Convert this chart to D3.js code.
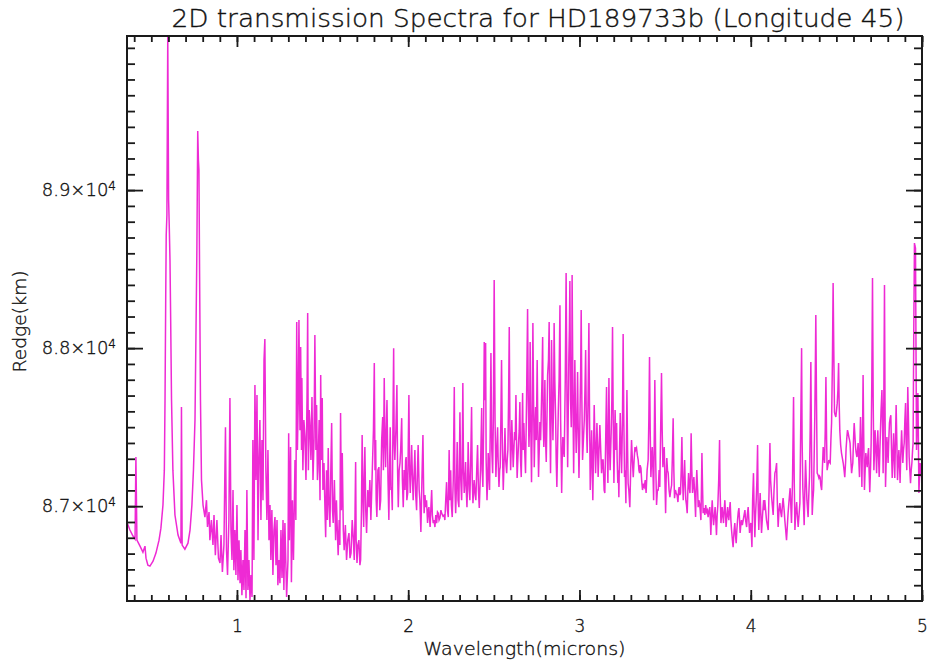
<!DOCTYPE html>
<html>
<head>
<meta charset="utf-8">
<script src="https://cdn.jsdelivr.net/npm/d3@7"></script>
<style>
  body { margin: 0; background: #fff; }
  text { font-family: "DejaVu Sans", sans-serif; fill: #111; }
</style>
</head>
<body>
<svg id="chart" width="929" height="666"></svg>
<script>
// Transmission spectrum: [wavelength (microns), Redge (km)]
const opticalNir = [
  [0.358,86899],[0.375,86849],[0.393,86811],[0.405,86792],[0.410,87311],[0.416,86785],[0.434,86747],[0.451,86709],
  [0.463,86747],[0.469,86671],[0.480,86627],[0.492,86621],[0.510,86652],[0.527,86703],[0.545,86785],[0.556,86861],
  [0.568,87007],[0.576,87228],[0.580,87671],[0.584,88304],[0.587,88716],[0.591,88842],[0.596,89975],[0.601,88937],
  [0.605,88760],[0.609,88557],[0.613,88178],[0.618,87671],[0.626,87228],[0.638,86944],[0.656,86817],[0.673,86766],
  [0.676,87627],[0.680,86754],[0.696,86728],[0.714,86766],[0.726,86849],[0.737,87007],[0.746,87228],[0.755,87545],
  [0.761,88114],[0.766,88621],[0.771,89374],[0.775,89190],[0.778,89127],[0.782,88450],[0.787,87671],[0.793,87165],
  [0.802,87007],[0.813,86931],[0.822,87038],[0.828,86868],[0.837,86963],[0.842,86785],[0.851,86912],[0.860,86754],
  [0.866,86944],[0.874,86690],[0.883,86912],[0.892,86671],[0.901,86640],[0.907,86817],[0.915,86583],[0.924,86754],
  [0.933,87500],[0.939,86722],[0.945,86564],[0.953,86912],[0.959,87684],[0.965,86849],[0.971,86659],[0.977,87102],
  [0.982,86595],[0.988,86849],[0.994,86564],[1.000,87007],[1.006,86532],[1.012,86785],[1.018,86513],[1.023,86722],
  [1.029,86437],[1.035,86659],[1.041,86469],[1.047,86849],[1.053,86418],[1.058,87102],[1.064,86469],[1.070,86659],
  [1.076,86406],[1.082,86564],[1.088,86425],[1.093,87418],[1.099,86659],[1.105,87766],[1.111,87165],[1.117,87703],
  [1.123,86785],[1.128,87292],[1.134,87545],[1.140,86912],[1.146,87418],[1.152,87038],[1.158,87925],[1.163,88057],
  [1.169,87228],[1.175,86912],[1.181,87355],[1.187,86785],[1.193,87007],[1.198,86659],[1.204,86975],[1.210,86564],
  [1.216,86849],[1.222,86931],[1.228,86627],[1.234,86912],[1.239,86500],[1.245,86659],[1.251,86513],[1.257,86849],
  [1.263,86545],[1.269,86912],[1.274,86469],[1.280,86893]
];

const waterBands = [
  [1.290,86425],[1.298,86659],[1.302,87462],[1.306,86785],[1.313,87374],[1.318,86519],[1.324,87038],[1.330,86659],
  [1.339,87292],[1.344,86912],[1.349,88165],[1.353,87355],[1.358,87671],[1.362,88178],[1.368,87481],[1.372,88007],
  [1.377,87355],[1.379,87811],[1.385,87228],[1.391,87545],[1.397,87437],[1.403,87165],[1.409,87671],[1.413,88222],
  [1.417,87228],[1.422,87608],[1.426,87526],[1.432,87292],[1.438,87690],[1.444,87165],[1.450,87418],[1.455,88083],
  [1.461,87355],[1.465,87640],[1.470,87165],[1.473,87228],[1.480,87545],[1.485,87038],[1.489,87830],[1.493,87292],
  [1.498,87684],[1.502,87102],[1.508,87273],[1.514,86975],[1.518,86804],[1.523,87228],[1.528,86912],[1.533,87368],
  [1.537,87038],[1.543,86868],[1.548,87228],[1.553,87526],[1.558,86975],[1.562,86893],[1.569,87165],[1.576,86785],
  [1.581,87038],[1.586,86849],[1.591,86690],[1.597,86912],[1.601,86754],[1.605,87589],[1.610,86975],[1.615,87336],
  [1.621,86849],[1.626,86722],[1.633,86880],[1.640,86659],[1.647,86785],[1.654,86830],[1.660,86671],[1.666,86703],
  [1.673,86912],[1.679,86804],[1.685,86659],[1.689,86912],[1.693,87279],[1.696,86785],[1.701,86640],[1.706,86754],
  [1.712,86785],[1.718,86627],[1.722,86659],[1.727,86975],[1.731,87450],[1.736,87038],[1.740,86868],[1.743,87165],
  [1.747,87374],[1.752,86975],[1.757,86830],[1.764,87102],[1.771,86994],[1.776,87165],[1.782,86912],[1.787,87102],
  [1.792,87292],[1.797,87481],[1.802,87906],[1.806,87228],[1.810,87418],[1.813,87038],[1.817,86931],[1.823,87228],
  [1.829,87247],[1.834,86975],[1.839,87038],[1.845,87418],[1.851,87564],[1.855,87228],[1.860,87811],[1.864,87418],
  [1.868,87247],[1.872,87481],[1.876,87671],[1.882,87165],[1.887,86912],[1.891,87228],[1.895,87500],[1.899,87102],
  [1.903,87121],[1.907,86975],[1.911,87545],[1.915,88000],[1.918,87418],[1.922,87292],[1.928,87481],[1.934,87766],
  [1.938,87228],[1.942,86994],[1.947,87228],[1.952,87273],[1.956,87355],[1.962,87557],[1.966,87165],[1.971,86994],
  [1.976,87228],[1.981,87102],[1.985,87292],[1.988,87311],[1.992,87038],[1.997,87083],[2.000,87355],[2.004,87703],
  [2.008,87228],[2.012,87083],[2.016,87228],[2.020,87387],[2.025,87165],[2.029,87038],[2.035,87228],[2.039,87355],
  [2.044,87070],[2.049,86975],[2.054,87228],[2.058,87387],[2.064,87102],[2.068,87038],[2.074,86836],[2.080,87165],
  [2.086,87450],[2.090,87102],[2.093,86956],[2.098,87070],[2.102,86994],[2.107,87038],[2.113,86893],[2.117,86975],
  [2.121,86994],[2.125,86912],[2.128,86868],[2.133,87007],[2.137,87102],[2.141,86944],[2.146,86893],[2.151,86912],
  [2.156,86868],[2.161,86944],[2.166,86893],[2.171,86963],[2.175,86956],[2.180,86912],[2.185,86925],[2.191,86975],
  [2.195,86956],[2.203,86937],[2.210,86944]
];

const kBand = [
  [2.214,86912],[2.219,87038],[2.224,87152],[2.229,86975],[2.234,86931],[2.239,87355],[2.243,87038],[2.248,87228],
  [2.252,87007],[2.257,86931],[2.263,87165],[2.269,87754],[2.273,87102],[2.277,86956],[2.281,87102],[2.286,87406],
  [2.291,87038],[2.296,86994],[2.302,87595],[2.307,87165],[2.312,87038],[2.315,87228],[2.319,87779],[2.323,87228],
  [2.327,87083],[2.331,87165],[2.335,87279],[2.339,87102],[2.343,86994],[2.347,87165],[2.350,87406],[2.356,87102],
  [2.360,87038],[2.365,87292],[2.370,87627],[2.374,87165],[2.378,87019],[2.382,87102],[2.385,87165],[2.391,87070],
  [2.395,87038],[2.400,87228],[2.405,87387],[2.410,87102],[2.415,86988],[2.422,87228],[2.429,87621],[2.432,87228],
  [2.436,87121],[2.440,87481],[2.444,88038],[2.448,87671],[2.452,88032],[2.455,87292],[2.460,87038],[2.464,87165],
  [2.467,87336],[2.471,87228],[2.475,87102],[2.479,87481],[2.483,87969],[2.488,87355],[2.493,87209],[2.497,87545],
  [2.502,88431],[2.507,87545],[2.512,87184],[2.517,87355],[2.522,87500],[2.525,87292],[2.530,87121],[2.534,87228],
  [2.537,87247],[2.541,87545],[2.545,87925],[2.550,87355],[2.555,87102],[2.560,87292],[2.565,87494],[2.569,87292],
  [2.575,87209],[2.578,87292],[2.582,87355],[2.586,87671],[2.590,88133],[2.594,87481],[2.598,87228],[2.601,87355],
  [2.605,87545],[2.610,87355],[2.613,87247],[2.617,87355],[2.621,87469],[2.625,87418],[2.629,87703],[2.633,87355],
  [2.636,87178],[2.640,87292],[2.645,87418],[2.648,87481],[2.652,87659],[2.656,87292],[2.660,87184],[2.664,87418],
  [2.668,87716],[2.671,87355],[2.675,87526],[2.680,87355],[2.685,87209],[2.691,87671],[2.697,88247],[2.701,87671],
  [2.705,87374],[2.709,87545],[2.712,88038],[2.716,87481],[2.720,87152],[2.724,87545],[2.728,88159],[2.732,87671],
  [2.736,87247],[2.740,87481],[2.744,87627],[2.748,87418],[2.753,87925],[2.757,87481],[2.761,87184],[2.765,87355],
  [2.769,87532],[2.773,87418],[2.776,87545],[2.781,87798],[2.785,88070],[2.788,87545],[2.792,87374],[2.795,87545],
  [2.798,87798],[2.802,87418],[2.806,87279],[2.810,87545],[2.814,87830],[2.819,87925],[2.823,88165],[2.827,87545],
  [2.831,87209],[2.834,87545],[2.837,88051],[2.841,87671],[2.845,87418],[2.849,87671],[2.852,88159],[2.856,87798],
  [2.861,87545],[2.864,87292],[2.868,87121],[2.872,87355],[2.876,87589],[2.881,87798],[2.886,88272],[2.890,87545],
  [2.896,87083],[2.899,87292],[2.903,87437],[2.907,87355],[2.911,87311],[2.917,87798],[2.922,88475],[2.927,87671],
  [2.931,87247],[2.934,87545],[2.938,87944],[2.941,88114],[2.944,88424],[2.948,87671],[2.952,87500],[2.955,87798],
  [2.957,88462],[2.962,87671],[2.966,87209],[2.969,87545],[2.973,87925],[2.977,87545],[2.981,87336],[2.985,87545],
  [2.989,87849],[2.992,87545],[2.997,87178],[3.001,87418],[3.004,87659],[3.007,87861],[3.010,88241],[3.014,87671],
  [3.018,87292],[3.023,87418],[3.028,87545],[3.032,87735],[3.036,87988],[3.040,87545],[3.045,87336],[3.050,87671],
  [3.055,88159],[3.059,87545],[3.063,87102],[3.067,87292],[3.071,87481],[3.074,87292],[3.078,87038],[3.082,87355],
  [3.086,87640],[3.090,87418],[3.094,87209],[3.098,87355],[3.102,87526],[3.106,87355],[3.109,87184],[3.114,87355],
  [3.119,87513],[3.124,87355],[3.129,87209],[3.134,87292],[3.138,87292],[3.144,87102]
];

const lBand = [
  [3.148,87083],[3.153,87418],[3.158,87754],[3.162,87355],[3.166,87146],[3.169,87481],[3.172,87811],[3.176,87355],
  [3.179,87228],[3.185,87462],[3.189,87671],[3.193,88133],[3.197,87545],[3.201,87146],[3.205,87418],[3.208,87608],
  [3.213,87355],[3.217,87526],[3.220,87292],[3.224,87146],[3.227,87228],[3.230,87057],[3.234,87355],[3.238,87589],
  [3.242,87355],[3.246,87209],[3.251,87545],[3.255,88089],[3.259,87545],[3.263,87184],[3.267,87228],[3.271,87019],
  [3.274,87355],[3.277,87735],[3.281,87355],[3.284,87146],[3.288,87102],[3.294,86994],[3.299,87228],[3.304,87418],
  [3.309,87292],[3.314,87184],[3.319,87292],[3.324,87374],[3.328,87355],[3.333,87368],[3.338,87323],[3.343,87292],
  [3.347,87228],[3.351,87209],[3.354,87260],[3.359,87241],[3.363,87165],[3.368,87102],[3.373,87133],[3.378,87121],
  [3.384,87165],[3.389,87083],[3.395,87228],[3.401,87292],[3.405,87545],[3.409,87944],[3.413,87481],[3.417,87184],
  [3.421,87292],[3.425,87374],[3.429,87228],[3.433,87038],[3.436,87355],[3.440,87798],[3.445,87292],[3.450,87007],
  [3.455,87102],[3.460,87102],[3.465,87228],[3.469,87121],[3.474,87481],[3.479,87842],[3.483,87481],[3.487,87247],
  [3.491,87323],[3.495,87374],[3.499,87165],[3.503,86956],[3.506,87165],[3.510,87304],[3.514,87228],[3.518,87209],
  [3.523,87102],[3.528,87057],[3.533,87102],[3.538,87133],[3.542,87292],[3.547,87557],[3.551,87228],[3.555,87051],
  [3.560,87102],[3.565,87083],[3.570,87070],[3.575,87026],[3.579,87102],[3.582,87121],[3.586,87070],[3.590,87083],
  [3.594,87228],[3.598,87437],[3.602,87165],[3.606,87038],[3.610,87165],[3.614,87292],[3.617,87165],[3.621,87038],
  [3.625,87007],[3.629,86956],[3.633,87102],[3.637,87209],[3.640,87133],[3.645,87083],[3.649,87228],[3.652,87462],
  [3.656,87228],[3.660,87083],[3.664,87133],[3.668,87184],[3.673,87070],[3.678,86931],[3.681,87102],[3.685,87228],
  [3.690,87102],[3.693,86994],[3.697,87038],[3.701,87019],[3.705,86975],[3.709,86912],[3.712,87102],[3.715,87336],
  [3.719,87102],[3.722,86956],[3.728,86988],[3.732,86944],[3.737,87007],[3.742,86963],[3.747,86975],[3.751,86931],
  [3.757,86975],[3.761,86994],[3.764,86912],[3.767,86817],[3.771,86944],[3.775,87038],[3.779,86944],[3.783,86880],
  [3.788,86944],[3.792,86994],[3.796,86912],[3.800,86817],[3.804,86944],[3.808,87007],[3.813,87165],[3.818,87418],
  [3.821,87102],[3.826,86893],[3.830,86944],[3.833,86994],[3.837,86944],[3.841,86893],[3.845,86975],[3.849,87038],
  [3.853,86944],[3.856,86868],[3.861,86944],[3.865,86994],[3.868,86944],[3.872,86912],[3.876,86975],[3.880,87026],
  [3.884,86912],[3.888,86849],[3.893,86785],[3.897,86741],[3.903,86849],[3.907,86893],[3.911,86817],[3.915,86766],
  [3.919,86849],[3.923,86912],[3.927,86963],[3.931,86988],[3.935,86912],[3.938,86830],[3.942,86880],[3.946,86912],
  [3.951,86880],[3.956,86912],[3.961,86944],[3.966,86975],[3.970,86912],[3.976,86868],[3.980,86944],[3.985,86994],
  [3.989,86912],[3.993,86830],[3.997,86880],[4.001,86893],[4.004,86817],[4.007,86741],[4.011,87038],[4.016,87209],
  [4.020,86975],[4.024,86804],[4.028,86944],[4.032,87038],[4.036,87165],[4.040,87387],[4.043,87038],[4.047,86849],
  [4.051,86975],[4.055,87083],[4.059,86944],[4.063,86830],[4.069,86944],[4.075,87038],[4.078,86975]
];

const mBand = [
  [4.082,87038],[4.087,86975],[4.092,86912],[4.097,86880],[4.102,86849],[4.107,87102],[4.112,87399],[4.116,87165],
  [4.122,87057],[4.126,87007],[4.131,86944],[4.136,87102],[4.141,87209],[4.146,87228],[4.151,87273],[4.155,87038],
  [4.160,86868],[4.165,86975],[4.170,87019],[4.175,86963],[4.180,86931],[4.185,87007],[4.189,87051],[4.195,86975],
  [4.199,86912],[4.204,86849],[4.209,86785],[4.214,86880],[4.218,86956],[4.224,87038],[4.230,87114],[4.234,87007],
  [4.238,86893],[4.244,87165],[4.250,87690],[4.254,87165],[4.258,86849],[4.262,86944],[4.268,87026],[4.272,86944],
  [4.277,86868],[4.282,86944],[4.287,87019],[4.291,87418],[4.297,88000],[4.300,87418],[4.304,87121],[4.308,87007],
  [4.312,86880],[4.316,87102],[4.320,87292],[4.324,87165],[4.328,87038],[4.332,86975],[4.335,86931],[4.339,87070],
  [4.343,87184],[4.347,87481],[4.351,87912],[4.355,87355],[4.359,86944],[4.363,87038],[4.367,87102],[4.370,87292],
  [4.374,87564],[4.377,87861],[4.380,88209],[4.384,87671],[4.388,87209],[4.393,87197],[4.398,87178],[4.402,87190],
  [4.405,87184],[4.409,87133],[4.414,87102],[4.418,87228],[4.423,87374],[4.427,87323],[4.431,87273],[4.435,87481],
  [4.439,87817],[4.443,87418],[4.446,87228],[4.451,87260],[4.456,87292],[4.460,87279],[4.464,87273],[4.468,87418],
  [4.472,87526],[4.477,87925],[4.481,88412],[4.485,87988],[4.489,87595],[4.493,87576],[4.497,87564],[4.501,87608],
  [4.505,87652],[4.509,87735],[4.513,87906],[4.516,87671],[4.520,87481],[4.525,87387],[4.530,87336],[4.535,87304],
  [4.540,87273],[4.545,87228],[4.549,87184],[4.554,87279],[4.557,87368],[4.561,87431],[4.565,87481],[4.569,87462],
  [4.573,87437],[4.577,87418],[4.580,87399],[4.584,87304],[4.589,87209],[4.592,87241],[4.596,87273],[4.600,87418],
  [4.604,87526],[4.608,87450],[4.612,87374],[4.615,87342],[4.620,87311],[4.624,87355],[4.627,87399],[4.631,87292],
  [4.635,87184],[4.638,87418],[4.641,87564],[4.645,87355],[4.649,87121],[4.653,87481],[4.656,87830],[4.660,87418],
  [4.664,87102],[4.668,87228],[4.672,87336],[4.676,87292],[4.680,87247],[4.684,87323],[4.688,87368],[4.691,87228],
  [4.695,87089],[4.700,87260],[4.703,87399],[4.707,87798],[4.711,88443],[4.715,87671],[4.719,87228],[4.723,87355],
  [4.726,87481],[4.731,87355],[4.735,87209],[4.738,87355],[4.742,87481],[4.746,87323],[4.750,87184],[4.754,87355],
  [4.758,87500],[4.761,87608],[4.766,87735],[4.770,87481],[4.773,87209],[4.777,87671],[4.781,88399],[4.784,87671],
  [4.787,87121],[4.791,87292],[4.795,87437],[4.799,87355],[4.802,87273],[4.806,87418],[4.810,87526],[4.814,87557],
  [4.818,87576],[4.822,87355],[4.826,87178],[4.830,87323],[4.834,87462],[4.837,87323],[4.841,87178],[4.845,87418],
  [4.849,87640],[4.853,87418],[4.857,87165],[4.861,87260],[4.865,87355],[4.869,87260],[4.872,87146],[4.876,87323],
  [4.881,87481],[4.884,87387],[4.888,87273],[4.892,87355],[4.896,87399],[4.900,87545],[4.904,87652],[4.907,87418],
  [4.911,87228],[4.914,87481],[4.917,87754],[4.921,87545],[4.925,87311],[4.929,87228],[4.933,87146],[4.937,87228],
  [4.941,87273],[4.945,87355],[4.948,87399],[4.952,88114],[4.956,88665],[4.959,88646],[4.962,88633],[4.965,87988],
  [4.968,87355],[4.972,87545],[4.976,87716],[4.979,87418],[4.982,87083],[4.986,87197],[4.989,87273],[4.993,87228],
  [4.997,87184]
];

// Axis settings
const xDomain = [0.358, 5.0];
const yDomain = [86400, 89975];
const xMajorTicks = [1, 2, 3, 4, 5];
const xMinorTicks = d3.range(4, 51).map(d => d / 10);
const yMajorTicks = [87000, 88000, 89000];
const yTickMantissa = ["8.7", "8.8", "8.9"];
const yMinorTicks = d3.range(86500, 89975, 100);
const titleText = "2D transmission Spectra for HD189733b (Longitude 45)";
const xTitle = "Wavelength(microns)";
const yTitle = "Redge(km)";

const spectrum = [].concat(opticalNir, waterBands, kBand, lBand, mBand);

const svg = d3.select("#chart");
const W = 929, H = 666;
const plot = { left: 127, right: 922, top: 36, bottom: 601 };

const x = d3.scaleLinear().domain(xDomain).range([plot.left, plot.right]);
const y = d3.scaleLinear().domain(yDomain).range([plot.bottom, plot.top]);

svg.append("rect").attr("width", W).attr("height", H).attr("fill", "#fff");

svg.append("defs").append("clipPath").attr("id", "plotClip")
  .append("rect")
  .attr("x", plot.left).attr("y", plot.top)
  .attr("width", plot.right - plot.left).attr("height", plot.bottom - plot.top);

// spectrum line
svg.append("path")
  .datum(spectrum)
  .attr("clip-path", "url(#plotClip)")
  .attr("fill", "none")
  .attr("stroke", "#ee2ad4")
  .attr("stroke-width", 1.5)
  .attr("stroke-linejoin", "miter")
  .attr("d", d3.line().x(d => x(d[0])).y(d => y(d[1])));

const xMajLen = 11, xMinLen = 6, yMajLen = 16, yMinLen = 8;
const tickColor = "#1a1a1a";

function styleAxis(g) {
  g.select(".domain").remove();
  g.selectAll(".tick line").attr("stroke", tickColor).attr("stroke-width", 1.8);
}

// thin lettering, slightly stroked for weight
function letter(sel, size) {
  sel.attr("font-size", size)
    .attr("fill", "#111").attr("stroke", "#111").attr("stroke-width", 0.35)
    .style("font-family", '"DejaVu Sans", sans-serif').style("font-weight", 300);
  return sel;
}

// bottom axis
svg.append("g").attr("transform", `translate(0,${plot.bottom})`)
  .call(d3.axisBottom(x).tickValues(xMinorTicks).tickSize(-xMinLen).tickFormat(""))
  .call(styleAxis);
const xb = svg.append("g").attr("transform", `translate(0,${plot.bottom})`)
  .call(d3.axisBottom(x).tickValues(xMajorTicks).tickSize(-xMajLen).tickPadding(19).tickFormat(d3.format("d")))
  .call(styleAxis);
letter(xb.selectAll(".tick text"), 17);

// top axis
svg.append("g").attr("transform", `translate(0,${plot.top})`)
  .call(d3.axisTop(x).tickValues(xMinorTicks).tickSize(-xMinLen).tickFormat(""))
  .call(styleAxis);
svg.append("g").attr("transform", `translate(0,${plot.top})`)
  .call(d3.axisTop(x).tickValues(xMajorTicks).tickSize(-xMajLen).tickFormat(""))
  .call(styleAxis);

// left axis
svg.append("g").attr("transform", `translate(${plot.left},0)`)
  .call(d3.axisLeft(y).tickValues(yMinorTicks).tickSize(-yMinLen).tickFormat(""))
  .call(styleAxis);
const yl = svg.append("g").attr("transform", `translate(${plot.left},0)`)
  .call(d3.axisLeft(y).tickValues(yMajorTicks).tickSize(-yMajLen).tickPadding(11)
    .tickFormat((d, i) => yTickMantissa[i] + "\u00d710"))
  .call(styleAxis);
letter(yl.selectAll(".tick text"), 18)
  .append("tspan").attr("dy", "-0.55em").attr("font-size", 12).text("4");

// right axis
svg.append("g").attr("transform", `translate(${plot.right},0)`)
  .call(d3.axisRight(y).tickValues(yMinorTicks).tickSize(-yMinLen).tickFormat(""))
  .call(styleAxis);
svg.append("g").attr("transform", `translate(${plot.right},0)`)
  .call(d3.axisRight(y).tickValues(yMajorTicks).tickSize(-yMajLen).tickFormat(""))
  .call(styleAxis);

// frame
svg.append("rect")
  .attr("x", plot.left).attr("y", plot.top)
  .attr("width", plot.right - plot.left).attr("height", plot.bottom - plot.top)
  .attr("fill", "none").attr("stroke", tickColor).attr("stroke-width", 2);

// titles
letter(svg.append("text"), 24)
  .attr("x", 538).attr("y", 27)
  .attr("text-anchor", "middle")
  .attr("textLength", 733).attr("lengthAdjust", "spacingAndGlyphs")
  .text(titleText);

letter(svg.append("text"), 18)
  .attr("x", (plot.left + plot.right) / 2).attr("y", 655)
  .attr("text-anchor", "middle")
  .attr("textLength", 202).attr("lengthAdjust", "spacingAndGlyphs")
  .text(xTitle);

letter(svg.append("text"), 18)
  .attr("transform", `translate(26,${(plot.top + plot.bottom) / 2 + 3}) rotate(-90)`)
  .attr("text-anchor", "middle")
  .attr("textLength", 102).attr("lengthAdjust", "spacingAndGlyphs")
  .text(yTitle);
</script>
</body>
</html>
